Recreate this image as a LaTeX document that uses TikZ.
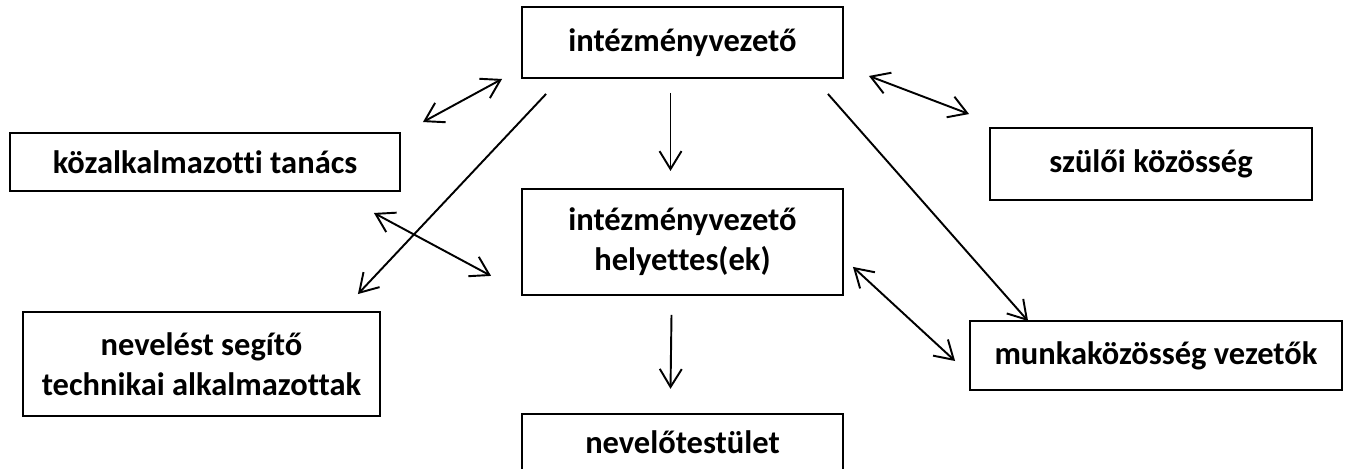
\documentclass[tikz,border=0pt]{standalone}
\usepackage{fontspec}
\setmainfont{Carlito}[Ligatures=NoCommon]
\usetikzlibrary{arrows.meta,positioning,calc}

\begin{document}
\begin{tikzpicture}[
			x=0.02cm, y=-0.02cm,
			>={Straight Barb[length=0.36cm,width=0.44cm]},
			box/.style={
				draw,
				line width=1.1pt,
				align=center,
				inner sep=0pt,
				font=\fontsize{18.5}{22.5}\selectfont\bfseries
			},
			link/.style={line width=1.1pt}
			]
			\useasboundingbox (0,0) rectangle (1345,468);
			
			\node[box,minimum width=6.42cm,minimum height=1.42cm] (iv) at (682.5,42.5)
			{intézményvezető};
			
			\node[box,minimum width=6.42cm,minimum height=2.12cm,below=2.18cm of iv] (ivh)
			{intézményvezető\\helyettes(ek)};
			
			\node[box,minimum width=6.42cm,minimum height=1.12cm,below=2.34cm of ivh] (nt)
			{nevelőtestület};
			
			\node[box,minimum width=7.8cm,minimum height=1.16cm] (kt) at (205,162)
			{közalkalmazotti tanács};
			
			\node[box,minimum width=7.14cm,minimum height=2.08cm] (nst) at (201.5,364)
			{nevelést segítő\\technikai alkalmazottak};
			
			\node[box,minimum width=6.44cm,minimum height=1.44cm] (szk) at (1151,164)
			{szülői közösség};
			
			\node[box,minimum width=7.44cm,minimum height=1.38cm] (mkv) at (1156,355.5)
			{munkaközösség vezetők};
			
			\draw[link,<->] ($(iv.south west)+(-19,0)$) -- ($(kt.north east)+(22,-10)$);
			\draw[link,->] ($(iv.south west)+(25,15)$) -- ($(nst.north east)+(-23,-17)$);
			\draw[link,->] ($(iv.south)+(-12,14)$) -- ($(ivh.north)+(-12,-17)$);
			\draw[link,<->] ($(iv.south east)+(25,-3)$) -- ($(szk.north west)+(-20,-13)$);
			\draw[link,->] ($(iv.south east)+(-16,15)$) -- ($(mkv.north west)+(59,1)$);
			
			\draw[link,<->] ($(kt.south east)+(-27,21)$) -- ($(ivh.west)+(-30,34)$);
			\draw[link,<->] ($(ivh.east)+(9,25)$) -- ($(mkv.west)+(-14,5.5)$);
			\draw[link,->] ($(ivh.south)+(-11,19)$) -- ($(nt.north)+(-12,-24)$);
			
		\end{tikzpicture}
\end{document}
